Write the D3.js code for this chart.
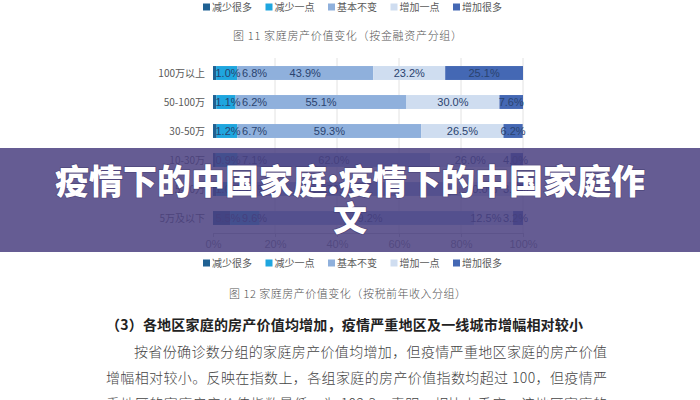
<!DOCTYPE html>
<html><head><meta charset="utf-8">
<script src="https://cdn.jsdelivr.net/npm/d3@7"></script>
<style>
html,body{margin:0;padding:0;background:#fff;}
svg{display:block;}
</style></head>
<body>
<svg id="c" width="700" height="400"></svg>
<script>
const categories = ["100万以上","50-100万","30-50万","10-30万","5-10万","5万及以下"];
const seriesNames = ["减少很多","减少一点","基本不变","增加一点","增加很多"];
const decreaseMuch   = [1.0, 1.1, 1.2, 0.9, 1.0, 5.5];
const decreaseLittle = [6.8, 6.2, 6.7, 7.1, 5.7, 9.6];
const unchanged      = [43.9, 55.1, 59.3, 62.0, 70.0, 69.2];
const increaseLittle = [23.2, 30.0, 26.5, 26.0, 20.0, 12.5];
const increaseMuch   = [25.1, 7.6, 6.2, 4.0, 3.3, 3.2];
const xTicks = [0, 20, 40, 60, 80, 100];
const caption1 = "图 11 家庭房产价值变化（按金融资产分组）";
const caption2 = "图 12 家庭房产价值变化（按税前年收入分组）";
const heading = "（3）各地区家庭的房产价值均增加，疫情严重地区及一线城市增幅相对较小";
const paraLines = [
  "按省份确诊数分组的家庭房产价值均增加，但疫情严重地区家庭的房产价值",
  "增幅相对较小。反映在指数上，各组家庭的房产价值指数均超过 100，但疫情严",
  "重地区的家庭房产价值指数最低，为 102.3，表明，相比上季度，该地区家庭的"
];
const bannerLines = ["疫情下的中国家庭:疫情下的中国家庭作", "文"];

const colors = ["#1f6193", "#1fa6df", "#8fb0dc", "#cfddf0", "#4468b4"];
const seriesData = [decreaseMuch, decreaseLittle, unchanged, increaseLittle, increaseMuch];
const table = categories.map((c, i) => {
  const o = {cat: c};
  seriesNames.forEach((s, k) => o[s] = seriesData[k][i]);
  return o;
});

const svg = d3.select("#c");
const CJK = "'Noto Sans CJK SC','Noto Sans',sans-serif";
const LAT = "'Liberation Sans','DejaVu Sans',sans-serif";

const x = d3.scaleLinear().domain([0, 100]).range([213, 523]);
const y = d3.scaleBand().domain(categories).range([58.5, 232.5]).paddingInner(0.52).paddingOuter(0.26);
const color = d3.scaleOrdinal().domain(seriesNames).range(colors);

function legend(cy) {
  const g = svg.append("g");
  const items = g.selectAll("g").data(seriesNames).join("g")
    .attr("transform", (d, i) => `translate(${203 + i * 62.5},${cy})`);
  items.append("rect").attr("x", 0).attr("y", -3.5).attr("width", 7).attr("height", 7)
    .attr("fill", d => color(d));
  items.append("text").attr("x", 9).attr("y", 0).attr("dy", "0.35em")
    .attr("font-family", CJK).attr("font-size", 10).attr("fill", "#595959").text(d => d);
}
function caption(txt, cy, x0, x1) {
  svg.append("text").attr("x", x0).attr("y", cy).attr("dy", "0.35em")
    .attr("font-family", CJK).attr("font-size", 11).attr("font-weight", 300).attr("fill", "#555")
    .attr("textLength", x1 - x0).attr("lengthAdjust", "spacing").text(txt);
}

legend(7);
caption(caption1, 36, 233, 462);

// gridlines
svg.append("g").selectAll("line").data(xTicks.filter(d => d > 0)).join("line")
  .attr("x1", d => x(d)).attr("x2", d => x(d)).attr("y1", 58).attr("y2", 233)
  .attr("stroke", "#e2e2e2").attr("stroke-width", 1);

// bars
const stack = d3.stack().keys(seriesNames)(table);
const layers = svg.append("g").selectAll("g").data(stack).join("g").attr("fill", d => color(d.key));
layers.selectAll("rect").data(d => d).join("rect")
  .attr("x", d => x(d[0])).attr("width", d => x(d[1]) - x(d[0]))
  .attr("y", d => y(d.data.cat)).attr("height", y.bandwidth());

// bar labels with simple collision avoidance
const labG = svg.append("g");
categories.forEach((c, i) => {
  let prevEnd = x(0) + 1;
  const texts = [];
  stack.forEach((layer) => {
    const d = layer[i];
    const val = d[1] - d[0];
    const t = labG.append("text").attr("font-family", LAT).attr("font-size", 11)
      .attr("fill", "#2a436f").attr("y", y(c) + y.bandwidth() / 2).attr("dy", "0.36em")
      .text(val.toFixed(1) + "%");
    const w = t.node().getComputedTextLength();
    let sx = (x(d[0]) + x(d[1])) / 2 - w / 2;
    if (sx < prevEnd + 1.5) sx = prevEnd + 1.5;
    texts.push({t, sx, w});
    prevEnd = sx + w;
  });
  let limit = x(100) + 5;
  for (let k = texts.length - 1; k >= 0; k--) {
    if (texts[k].sx + texts[k].w > limit) texts[k].sx = limit - texts[k].w;
    limit = texts[k].sx - 1.5;
  }
  texts.forEach(o => o.t.attr("x", o.sx));
});

// y labels
svg.append("g").selectAll("text").data(categories).join("text")
  .attr("x", 205).attr("y", d => y(d) + y.bandwidth() / 2).attr("dy", "0.35em")
  .attr("text-anchor", "end").attr("font-family", CJK).attr("font-size", 10)
  .attr("fill", "#595959").text(d => d);

// x axis
const ax = svg.append("g").attr("transform", "translate(0,233)")
  .call(d3.axisBottom(x).tickValues(xTicks).tickFormat(d => d + "%").tickSize(4).tickSizeOuter(0));
ax.select(".domain").attr("stroke", "#bfbfbf");
ax.selectAll(".tick line").attr("stroke", "#bfbfbf");
ax.selectAll(".tick text").attr("font-family", LAT).attr("font-size", 11).attr("fill", "#7f7f7f");

legend(263);
caption(caption2, 294, 229, 466);

// heading & paragraph
svg.append("text").attr("x", 106).attr("y", 325).attr("dy", "0.35em")
  .attr("font-family", CJK).attr("font-size", 14).attr("font-weight", 700).attr("fill", "#222")
  .attr("textLength", 477).attr("lengthAdjust", "spacing").text(heading);
svg.append("g").selectAll("text").data(paraLines).join("text")
  .attr("x", (d, i) => i === 0 ? 134 : 106).attr("y", (d, i) => 352 + i * 26).attr("dy", "0.35em")
  .attr("font-family", CJK).attr("font-size", 14).attr("font-weight", 300).attr("fill", "#444")
  .attr("textLength", (d, i) => i === 0 ? 473 : 501).attr("lengthAdjust", "spacing").text(d => d);

// banner overlay
svg.append("rect").attr("x", 0).attr("y", 148).attr("width", 700).attr("height", 104)
  .attr("fill", "#4a3f80").attr("opacity", 0.85);
svg.append("g").selectAll("text").data(bannerLines).join("text")
  .attr("x", 350).attr("y", (d, i) => 182 + i * 37).attr("dy", "0.36em")
  .attr("text-anchor", "middle").attr("font-family", CJK).attr("font-size", 34)
  .attr("font-weight", 900).attr("fill", "#fff")
  .style("paint-order", "stroke").attr("stroke", "rgba(40,30,80,0.35)").attr("stroke-width", 1.5)
  .text(d => d);
</script>
</body></html>
